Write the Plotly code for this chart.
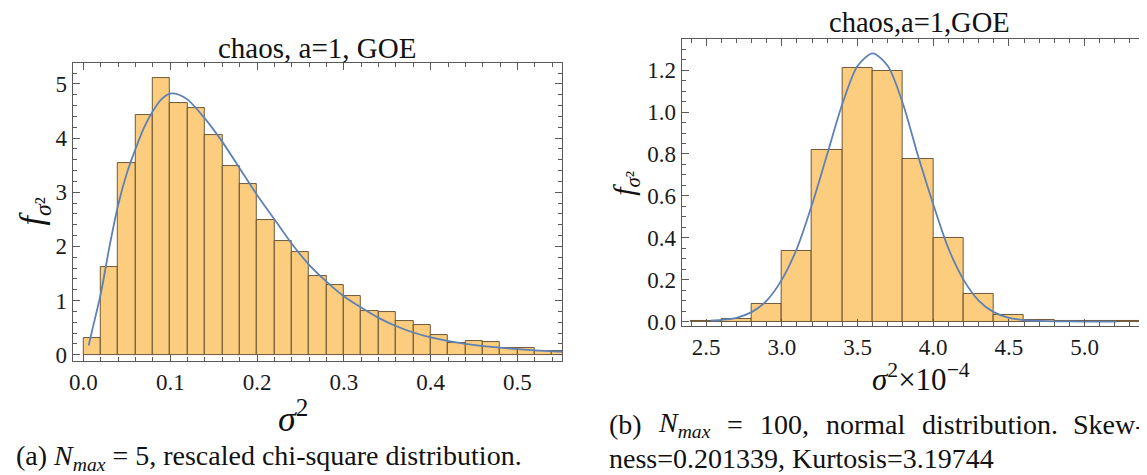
import plotly.graph_objects as go

W, H = 1147, 475

# ---------------- data: panel (a) ----------------
a_bin_lo = [0.00, 0.02, 0.04, 0.06, 0.08, 0.10, 0.12, 0.14, 0.16, 0.18,
            0.20, 0.22, 0.24, 0.26, 0.28, 0.30, 0.32, 0.34, 0.36, 0.38,
            0.40, 0.42, 0.44, 0.46, 0.48, 0.50, 0.52, 0.54]
a_bin_width = 0.02
a_heights = [0.30, 1.62, 3.53, 4.42, 5.11, 4.64, 4.56, 4.05, 3.48, 3.15,
             2.48, 2.10, 1.89, 1.46, 1.29, 1.08, 0.81, 0.79, 0.62, 0.55,
             0.36, 0.22, 0.25, 0.24, 0.13, 0.13, 0.06, 0.07]
a_curve_x = [0.006, 0.01, 0.02, 0.03, 0.04, 0.05, 0.06, 0.07, 0.08, 0.09, 0.10,
             0.11, 0.12, 0.14, 0.16, 0.18, 0.20, 0.22, 0.24, 0.26, 0.28, 0.30,
             0.32, 0.34, 0.36, 0.38, 0.40, 0.44, 0.48, 0.52, 0.56]
a_curve_y = [0.17, 0.45, 1.13, 2.00, 2.77, 3.35, 3.80, 4.20, 4.50, 4.72, 4.82,
             4.80, 4.71, 4.36, 3.93, 3.44, 2.95, 2.50, 2.05, 1.66, 1.35, 1.08,
             0.87, 0.68, 0.53, 0.41, 0.32, 0.20, 0.13, 0.08, 0.05]

# ---------------- data: panel (b) ----------------
b_bin_lo = [2.4, 2.6, 2.8, 3.0, 3.2, 3.4, 3.6, 3.8, 4.0, 4.2, 4.4, 4.6, 4.8, 5.0, 5.2]
b_bin_width = 0.2
b_heights = [0.003, 0.013, 0.083, 0.335, 0.821, 1.212, 1.195, 0.775, 0.398,
             0.133, 0.033, 0.007, 0.003, 0.002, 0.002]
b_curve_x = [2.53, 2.6, 2.7, 2.8, 2.9, 3.0, 3.1, 3.2, 3.3, 3.4, 3.5, 3.6, 3.7,
             3.8, 3.9, 4.0, 4.1, 4.2, 4.3, 4.4, 4.5, 4.6, 4.7, 4.8, 5.0, 5.21]
b_curve_y = [0.004, 0.008, 0.018, 0.045, 0.10, 0.20, 0.35, 0.56, 0.80, 1.04,
             1.22, 1.28, 1.22, 1.04, 0.79, 0.56, 0.35, 0.20, 0.10, 0.045,
             0.018, 0.007, 0.003, 0.001, 0.0, 0.0]

title_a = "chaos, a=1, GOE"
title_b = "chaos,a=1,GOE"

BAR_FILL = "#FCCD7E"
BAR_EDGE = "rgba(85,65,35,0.85)"
CURVE = "#5E81B5"
FRAME = "#5a5a5a"
SERIF = "Liberation Serif, Times New Roman, serif"


def px(x):
    return x / W


def py(y):
    return 1 - y / H


fig = go.Figure()

fig.add_trace(go.Bar(
    x=[lo + a_bin_width / 2 for lo in a_bin_lo], y=a_heights, width=a_bin_width,
    marker=dict(color=BAR_FILL, line=dict(color=BAR_EDGE, width=1)),
    xaxis="x", yaxis="y", showlegend=False, hoverinfo="skip"))
fig.add_trace(go.Scatter(
    x=a_curve_x, y=a_curve_y, mode="lines",
    line=dict(color=CURVE, width=1.8, shape="spline", smoothing=0.8),
    xaxis="x", yaxis="y", showlegend=False, hoverinfo="skip"))

fig.add_trace(go.Bar(
    x=[lo + b_bin_width / 2 for lo in b_bin_lo], y=b_heights, width=b_bin_width,
    marker=dict(color=BAR_FILL, line=dict(color=BAR_EDGE, width=1)),
    xaxis="x2", yaxis="y2", showlegend=False, hoverinfo="skip"))
fig.add_trace(go.Scatter(
    x=b_curve_x, y=b_curve_y, mode="lines",
    line=dict(color=CURVE, width=1.8, shape="spline", smoothing=0.8),
    xaxis="x2", yaxis="y2", showlegend=False, hoverinfo="skip"))


def axis(domain, rng, dtick, minor_dtick, fmt, anchor):
    return dict(
        domain=domain, range=rng, anchor=anchor,
        tickmode="linear", tick0=0, dtick=dtick, tickformat=fmt,
        ticks="inside", ticklen=7, tickwidth=1, tickcolor=FRAME,
        minor=dict(dtick=minor_dtick, tick0=0, ticks="inside", ticklen=4,
                   tickwidth=1, tickcolor=FRAME, showgrid=False),
        showline=True, linecolor=FRAME, linewidth=1.2, mirror="allticks",
        showgrid=False, zeroline=False,
        tickfont=dict(family=SERIF, size=23, color="#1a1a1a"),
    )


xa_dom = [px(61), px(552)]
ya_dom = [py(359), py(56)]
xb_dom = [px(672), px(1138)]
yb_dom = [py(323.5), py(31.5)]

fig.update_layout(
    width=W, height=H,
    margin=dict(l=0, r=0, t=0, b=0),
    paper_bgcolor="white", plot_bgcolor="white",
    font=dict(family=SERIF, size=23, color="#1a1a1a"),
    bargap=0,
    xaxis=axis(xa_dom, [-0.0123, 0.5514], 0.1, 0.02, ".1f", "y"),
    yaxis=axis(ya_dom, [-0.115, 5.385], 1, 0.2, "d", "x"),
    xaxis2=axis(xb_dom, [2.338, 5.406], 0.5, 0.1, ".1f", "y2"),
    yaxis2=axis(yb_dom, [-0.0216, 1.349], 0.2, 0.05, ".1f", "x2"),
)

ann = []


def text(x, y, s, size, xanchor="center", angle=0, font=SERIF):
    ann.append(dict(x=px(x), y=py(y), xref="paper", yref="paper", text=s,
                    showarrow=False, xanchor=xanchor, yanchor="middle",
                    textangle=angle,
                    font=dict(family=font, size=size, color="#111111")))


# panel titles
text(306, 41, title_a, 29)
text(911, 15, title_b, 28.5)

# axis labels
text(22, 207, "<i>f</i><sub><i>σ</i>²</sub>", 34, angle=-90)
text(616, 178, "<i>f</i><sub><i>σ</i>²</sub>", 30, angle=-90)
text(282, 416, "<i>σ</i><sup>2</sup>", 36)
text(912, 376, "<i>σ</i><sup>2</sup>×10<sup>−4</sup>", 31)

# captions
CAP = 28
text(2, 457, "(a) <i>N<sub>max</sub></i> = 5, rescaled chi-square distribution.", CAP,
     xanchor="left")
cap_b_words = [("(b)", 597), ("<i>N<sub>max</sub></i>", 646), ("=", 715),
               ("100,", 749), ("normal", 815), ("distribution.", 911)]
for w, x in cap_b_words:
    text(x, 424, w, CAP, xanchor="left")
text(1139, 424, "Skew-", CAP, xanchor="right")
text(597, 458, "ness=0.201339, Kurtosis=3.19744", CAP, xanchor="left")

fig.update_layout(annotations=ann)

fig.write_html("out.html")
